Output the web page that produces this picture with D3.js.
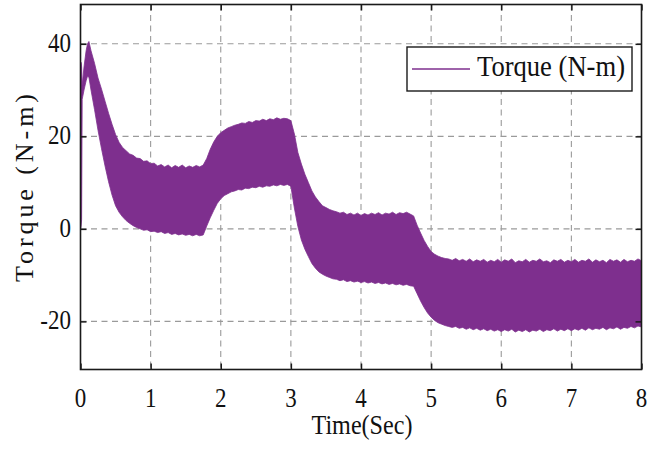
<!DOCTYPE html>
<html>
<head>
<meta charset="utf-8">
<script src="https://cdn.jsdelivr.net/npm/d3@7"></script>
<style>
  html, body { margin: 0; padding: 0; background: #fff; }
  svg { display: block; }
  text { font-family: "Liberation Serif", "Times New Roman", serif; fill: #111; }
</style>
</head>
<body>
<svg id="chart" width="664" height="450"></svg>
<script>
// ---- data ----
const timeSec = [
  0, 0.008, 0.016, 0.024, 0.05, 0.08, 0.10, 0.12,
  0.15, 0.20, 0.25, 0.30, 0.35, 0.40, 0.45, 0.50, 0.55, 0.60, 0.65, 0.70, 0.75, 0.80, 0.85, 0.90, 0.95,
  1.00, 1.05, 1.10, 1.15, 1.20, 1.25, 1.30, 1.35, 1.40, 1.45, 1.50, 1.55, 1.60, 1.65, 1.70, 1.75, 1.80, 1.85, 1.90, 1.95,
  2.00, 2.05, 2.10, 2.15, 2.20, 2.25, 2.30, 2.35, 2.40, 2.45, 2.50, 2.55, 2.60, 2.65, 2.70, 2.75, 2.80, 2.85, 2.90, 2.95,
  3.00, 3.05, 3.10, 3.15, 3.20, 3.25, 3.30, 3.35, 3.40, 3.45, 3.50, 3.55, 3.60, 3.65, 3.70, 3.75, 3.80, 3.85, 3.90, 3.95,
  4.00, 4.05, 4.10, 4.15, 4.20, 4.25, 4.30, 4.35, 4.40, 4.45, 4.50, 4.55, 4.60, 4.65, 4.70, 4.75, 4.80, 4.85, 4.90, 4.95,
  5.00, 5.05, 5.10, 5.15, 5.20, 5.25, 5.30, 5.35, 5.40, 5.45, 5.50, 5.55, 5.60, 5.65, 5.70, 5.75, 5.80, 5.85, 5.90, 5.95,
  6.00, 6.05, 6.10, 6.15, 6.20, 6.25, 6.30, 6.35, 6.40, 6.45, 6.50, 6.55, 6.60, 6.65, 6.70, 6.75, 6.80, 6.85, 6.90, 6.95,
  7.00, 7.05, 7.10, 7.15, 7.20, 7.25, 7.30, 7.35, 7.40, 7.45, 7.50, 7.55, 7.60, 7.65, 7.70, 7.75, 7.80, 7.85, 7.90, 7.95,
  8.00
];
// upper envelope of the oscillating torque (N-m)
const torqueUpper = [
  0, 36, 35, 31, 35, 38.5, 40, 40.5,
  38.5, 35.8, 32.6, 30.2, 27.6, 25.0, 22.6, 20.4, 18.7, 17.6, 16.9, 16.2, 15.9, 15.3, 15.2, 14.6, 14.7,
  14.1, 14.2, 13.6, 13.9, 13.4, 13.8, 13.2, 13.7, 13.3, 13.8, 13.2, 13.6, 13.3, 13.7, 13.4, 13.8, 15.2, 17.2, 18.8, 20.0,
  20.8, 21.3, 21.8, 22.1, 22.4, 22.6, 22.9, 22.8, 23.2, 23.0, 23.4, 23.3, 23.7, 23.4, 23.8, 23.6, 24.0, 23.7, 23.9, 23.8,
  23.4, 20.5, 16.5, 14.0, 11.8, 10.0, 8.2, 6.9, 5.9, 5.0, 4.6, 4.2, 3.9, 3.7, 3.4, 3.6, 3.1, 3.4, 3.0, 3.4,
  2.9, 3.3, 3.0, 3.4, 3.1, 3.5, 3.0, 3.4, 3.2, 3.6, 3.1, 3.5, 3.3, 3.6, 3.2, 2.8, 0.8, -0.9, -2.5, -3.8,
  -4.9, -5.5, -5.9, -6.2, -6.4, -6.5, -6.8, -6.4, -6.9, -6.6, -7.0, -6.5, -7.1, -6.7, -7.0, -6.6, -7.2, -6.8, -7.1, -6.6,
  -7.2, -6.7, -7.0, -6.5, -7.3, -6.9, -7.1, -6.6, -7.2, -6.8, -7.0, -6.5, -7.1, -6.9, -7.3, -6.7, -7.0, -6.6, -7.2, -6.8,
  -7.1, -6.6, -7.2, -6.8, -7.0, -6.5, -7.2, -6.7, -7.1, -6.8, -7.3, -6.6, -7.0, -6.7, -7.2, -6.6, -7.1, -6.8, -7.0, -6.5,
  -6.9
];
// lower envelope of the oscillating torque (N-m)
const torqueLower = [
  0, 0.5, 2, 28, 30, 32, 33, 32.8,
  30.0, 25.8, 21.3, 17.3, 13.6, 10.2, 7.3, 5.0, 3.6, 2.6, 1.8, 1.2, 0.7, 0.3, 0.0, -0.3, -0.2,
  -0.6, -0.5, -0.8, -0.6, -1.0, -0.8, -1.2, -1.0, -1.3, -1.1, -1.4, -1.2, -1.5, -1.2, -1.5, -1.3, 0.6, 2.4, 4.0, 5.5,
  6.5, 7.2, 7.6, 8.0, 8.2, 8.5, 8.4, 8.8, 8.7, 9.0, 8.9, 9.2, 9.0, 9.3, 9.2, 9.5, 9.3, 9.6, 9.4, 9.6,
  9.2, 4.5, 0.5, -2.4, -4.4, -6.0, -7.5, -8.5, -9.3, -9.8, -10.2, -10.5, -10.8, -10.9, -11.2, -11.0, -11.4, -11.2, -11.5, -11.3,
  -11.6, -11.4, -11.7, -11.5, -11.8, -11.6, -11.9, -11.7, -12.0, -11.8, -12.1, -11.9, -12.2, -12.0, -12.3, -12.4, -14.0, -15.6, -17.0, -18.2,
  -19.1, -19.8, -20.3, -20.6, -20.9, -21.1, -21.3, -21.1, -21.5, -21.3, -21.7, -21.4, -21.8, -21.5, -21.9, -21.6, -22.0, -21.7, -22.1, -21.8,
  -22.2, -21.8, -22.1, -21.7, -22.3, -21.9, -22.2, -21.8, -22.3, -21.9, -22.1, -21.7, -22.2, -21.8, -22.0, -21.6, -22.1, -21.7, -22.0, -21.6,
  -22.0, -21.6, -21.9, -21.5, -21.9, -21.4, -21.8, -21.5, -21.7, -21.3, -21.8, -21.4, -21.6, -21.2, -21.7, -21.3, -21.5, -21.1, -21.4, -21.0,
  -21.2
];
const xTicks = [0, 1, 2, 3, 4, 5, 6, 7, 8];
const yTicks = [-20, 0, 20, 40];
const xDomain = [0, 8];
const yDomain = [-30.4, 48.5];
const seriesName = "Torque (N-m)";
const xLabel = "Time(Sec)";
const yLabel = "Torque (N-m)";

// ---- layout ----
const svg = d3.select("#chart");
const L = 80.5, R = 641.5, T = 4.5, B = 369.5;
const purple = "#7E2F8E";
const x = d3.scaleLinear().domain(xDomain).range([L, R]);
const y = d3.scaleLinear().domain(yDomain).range([B, T]);

const rows = timeSec.map((t, i) => ({ t, hi: torqueUpper[i], lo: torqueLower[i] }));

// grid
const grid = svg.append("g").attr("stroke", "#9a9a9a").attr("stroke-width", 1.1)
  .attr("stroke-dasharray", "6,4.5").attr("fill", "none");
xTicks.filter(v => v > xDomain[0] && v < xDomain[1]).forEach(v => {
  grid.append("line").attr("x1", x(v)).attr("x2", x(v)).attr("y1", T).attr("y2", B);
});
yTicks.forEach(v => {
  grid.append("line").attr("x1", L).attr("x2", R).attr("y1", y(v)).attr("y2", y(v));
});

// data band
const area = d3.area().x(d => x(d.t)).y0(d => y(d.lo)).y1(d => y(d.hi)).curve(d3.curveLinear);
svg.append("path").datum(rows).attr("d", area).attr("fill", purple).attr("stroke", purple).attr("stroke-width", 0.8);

// axes with inner ticks
const tickLen = 6;
const axB = d3.axisBottom(x).tickValues(xTicks).tickSizeInner(-tickLen).tickSizeOuter(0).tickFormat("");
const axT = d3.axisTop(x).tickValues(xTicks).tickSizeInner(-tickLen).tickSizeOuter(0).tickFormat("");
const axL = d3.axisLeft(y).tickValues(yTicks).tickSizeInner(-tickLen).tickSizeOuter(0).tickFormat("");
const axR = d3.axisRight(y).tickValues(yTicks).tickSizeInner(-tickLen).tickSizeOuter(0).tickFormat("");
[[axB, `translate(0,${B})`], [axT, `translate(0,${T})`], [axL, `translate(${L},0)`], [axR, `translate(${R},0)`]]
  .forEach(([ax, tr]) => {
    const g = svg.append("g").attr("transform", tr).call(ax);
    g.selectAll("line").attr("stroke", "#1a1a1a").attr("stroke-width", 1.5);
    g.select(".domain").remove();
  });
svg.append("rect").attr("x", L).attr("y", T).attr("width", R - L).attr("height", B - T)
  .attr("fill", "none").attr("stroke", "#1a1a1a").attr("stroke-width", 1.6);

// helper for vertically stretched text
function label(px, py, str, size, sy, anchor, len) {
  const g = svg.append("g").attr("transform", `translate(${px},${py}) scale(1,${sy})`);
  const t = g.append("text").attr("x", 0).attr("y", 0).attr("font-size", size)
    .attr("text-anchor", anchor).text(str);
  if (len) t.attr("textLength", len).attr("lengthAdjust", "spacingAndGlyphs");
  return t;
}

// tick labels
xTicks.forEach(v => label(x(v), 407, String(v), 23, 1.2, "middle"));
yTicks.forEach(v => label(71, y(v) + 8, String(v), 23, 1.2, "end"));

// axis titles
label((L + R) / 2 + 1, 434, xLabel, 23, 1.15, "middle", 101);
const yl = svg.append("g").attr("transform", `translate(33,188) rotate(-90)`);
yl.append("text").attr("text-anchor", "middle").attr("font-size", 26)
  .attr("textLength", 188).attr("lengthAdjust", "spacing").text(yLabel);

// legend
const lg = svg.append("g");
lg.append("rect").attr("x", 407).attr("y", 47).attr("width", 225).attr("height", 44)
  .attr("fill", "#fff").attr("stroke", "#1a1a1a").attr("stroke-width", 1.4);
lg.append("line").attr("x1", 412).attr("x2", 470).attr("y1", 69).attr("y2", 69)
  .attr("stroke", purple).attr("stroke-width", 1.5);
label(477, 76, seriesName, 23, 1.3, "start", 148);
</script>
</body>
</html>
